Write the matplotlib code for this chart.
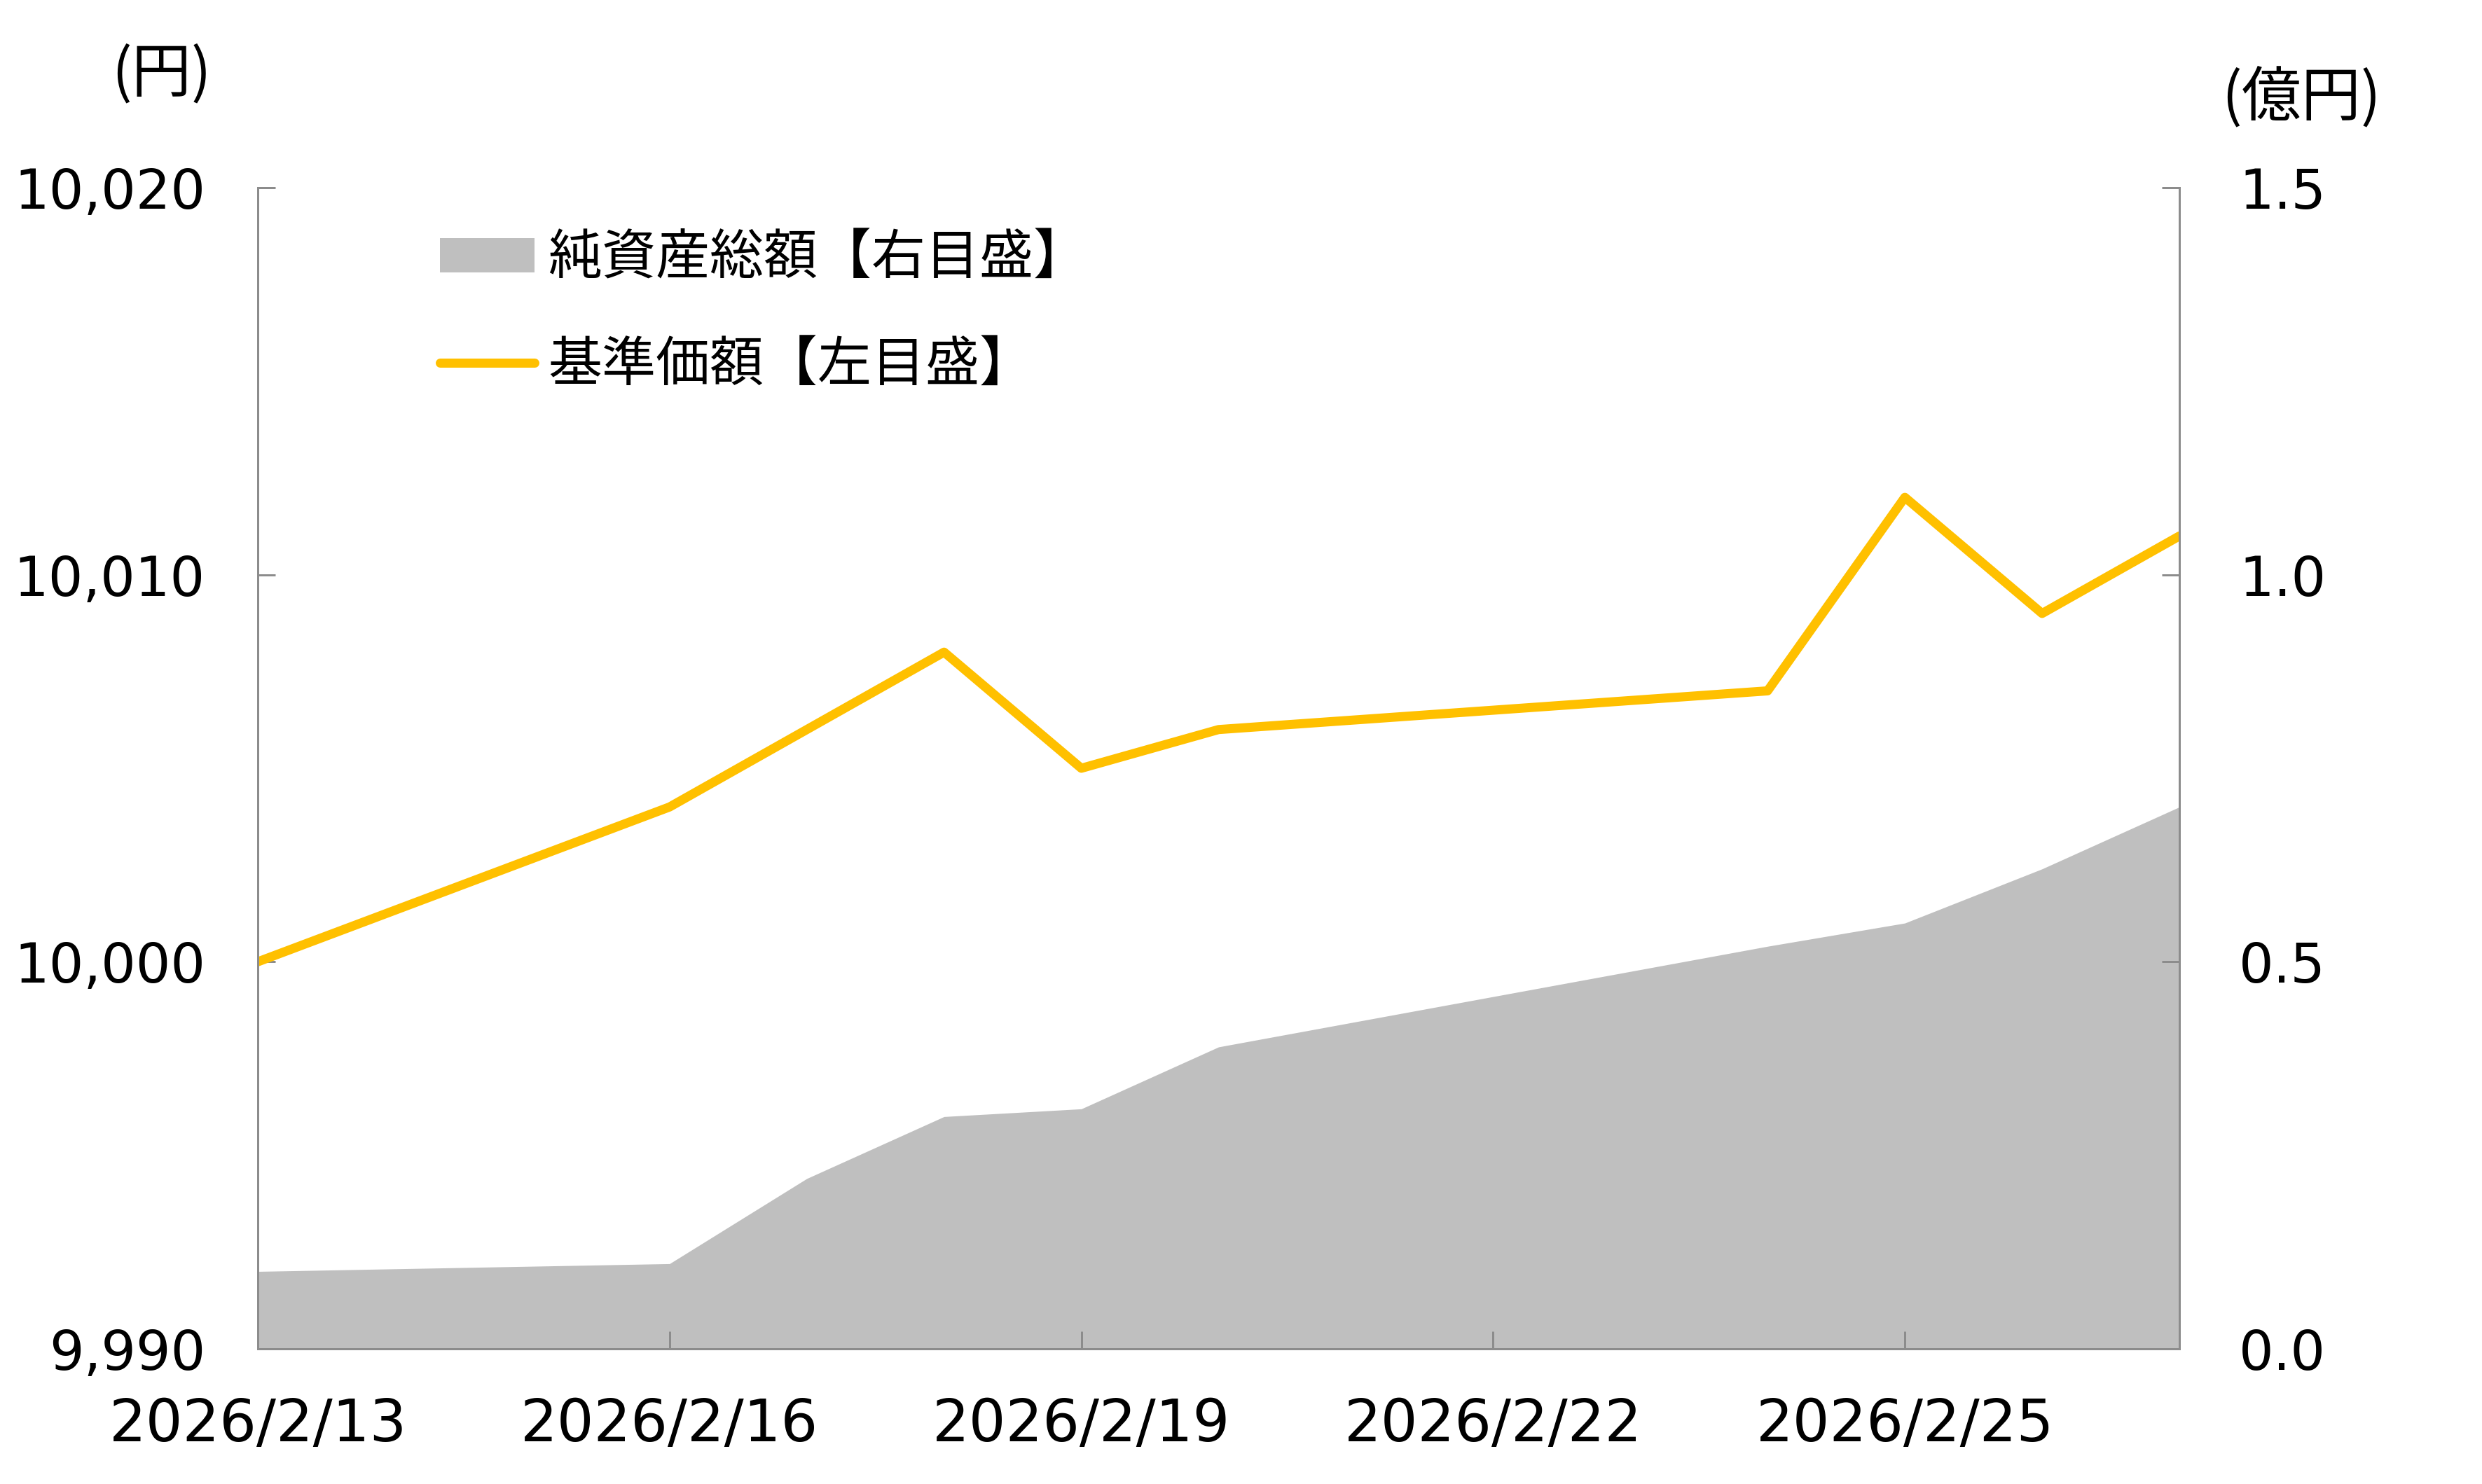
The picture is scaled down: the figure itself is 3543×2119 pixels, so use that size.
import datetime as dt

import matplotlib
matplotlib.use('Agg')
from matplotlib import pyplot as plt
from matplotlib.lines import Line2D
from matplotlib.patches import Patch

plt.rcParams['font.family'] = ['Noto Sans CJK JP', 'DejaVu Sans']

# data
dates = ['2026-02-13', '2026-02-16', '2026-02-17', '2026-02-18', '2026-02-19',
         '2026-02-20', '2026-02-24', '2026-02-25', '2026-02-26', '2026-02-27']
nav = [10000, 10004, 10006, 10008, 10005, 10006, 10007, 10012, 10009, 10011]
net_assets = [0.10, 0.11, 0.22, 0.30, 0.31, 0.39, 0.52, 0.55, 0.62, 0.70]
tick_dates = ['2026-02-13', '2026-02-16', '2026-02-19', '2026-02-22', '2026-02-25']
left_ticks = [9990, 10000, 10010, 10020]
right_ticks = [0.0, 0.5, 1.0, 1.5]

x = [dt.datetime.strptime(d, '%Y-%m-%d') for d in dates]
xt = [dt.datetime.strptime(d, '%Y-%m-%d') for d in tick_dates]

YELLOW = '#FFC000'
GREY_FILL = '#BFBFBF'
AXIS_GREY = '#8C8C8C'
NUM_FONT = ['DejaVu Sans', 'Noto Sans CJK JP']
DPI = 72

fig = plt.figure(figsize=(3543 / DPI, 2119 / DPI), dpi=DPI)
ax = fig.add_axes([368 / 3543, 1 - 1926 / 2119, (3111 - 368) / 3543, (1926 - 268) / 2119])
ax2 = ax.twinx()

ax2.fill_between(x, net_assets, 0, color=GREY_FILL, linewidth=0)
ax.plot(x, nav, color=YELLOW, linewidth=13, solid_capstyle='round', solid_joinstyle='round')

ax.set_zorder(ax2.get_zorder() + 1)
ax.patch.set_visible(False)

ax.set_xlim(x[0], x[-1])
ax.set_ylim(9990, 10020)
ax2.set_ylim(0, 1.5)
ax.set_yticks(left_ticks)
ax.set_yticklabels([f'{v:,}' for v in left_ticks], family=NUM_FONT)
ax2.set_yticks(right_ticks)
ax2.set_yticklabels([f'{v:.1f}' for v in right_ticks], family=NUM_FONT)
ax.set_xticks(xt)
ax.set_xticklabels([f'{d.year}/{d.month}/{d.day}' for d in xt], family=NUM_FONT)

for a in (ax, ax2):
    a.spines['top'].set_visible(False)
    for s in ('left', 'right', 'bottom'):
        a.spines[s].set_color(AXIS_GREY)
        a.spines[s].set_linewidth(3)
    a.tick_params(direction='in', length=25, width=3, color=AXIS_GREY,
                  labelsize=78, labelcolor='black')
ax.tick_params(axis='y', pad=75)
ax2.tick_params(axis='y', pad=85)
ax.tick_params(axis='x', pad=68, labelsize=83)

fig.text(230 / 3543, 1 - 106 / 2119, '(円)', fontsize=85, ha='center', va='center')
fig.text(3285 / 3543, 1 - 140 / 2119, '(億円)', fontsize=85, ha='center', va='center')

handles = [Patch(facecolor=GREY_FILL, edgecolor='none'),
           Line2D([0], [0], color=YELLOW, linewidth=13, solid_capstyle='round')]
labels = ['純資産総額【右目盛】', '基準価額【左目盛】']
fig.legend(handles, labels, loc='upper left', bbox_to_anchor=(628 / 3543, 1 - 330 / 2119),
           frameon=False, fontsize=77, handlelength=1.75, handleheight=0.6,
           handletextpad=0.25, labelspacing=0.95, borderaxespad=0, borderpad=0)

fig.savefig('out.png', dpi=DPI)
